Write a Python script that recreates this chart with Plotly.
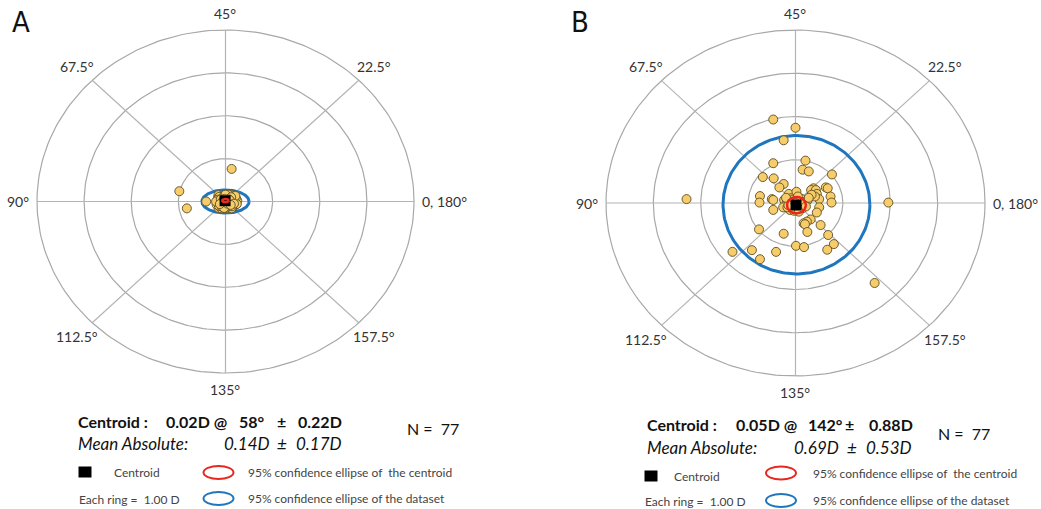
import numpy as np
import plotly.graph_objects as go

# ---------------- data ----------------
ring_step_D = 1.0
n_rings = 4
axis_labels = ["0, 180°", "22.5°", "45°", "67.5°", "90°", "112.5°", "135°", "157.5°"]
axis_deg = [0, 22.5, 45, 67.5, 90, 112.5, 135, 157.5]

# Panel A: double-angle vector components (D)
a_x = [0.13, -0.98, -0.82, -0.41,
       -0.15, 0.10, 0.20, 0.22, -0.15, 0.03, 0.17, -0.08, 0.13, -0.19, 0.06,
       0.25, 0.20, -0.10, 0.00, -0.05, 0.08, 0.15, -0.12, 0.05, -0.02, 0.10, 0.18,
       -0.06, 0.12, -0.16, 0.02, 0.07, -0.03, 0.22, -0.09, 0.14, -0.13, 0.00, 0.09,
       -0.04, 0.16, -0.11, 0.04, 0.11, -0.07, 0.01, 0.19, -0.17, 0.06, 0.13, -0.01,
       0.24, -0.14, 0.05, 0.03, -0.06, 0.10, 0.17, -0.08, 0.08, 0.21, -0.20, 0.00,
       0.15, -0.03, 0.12, -0.10, 0.07, -0.05, 0.02, 0.14, -0.12, 0.09, 0.04, -0.02,
       0.18, 0.11]
a_y = [0.76, 0.24, -0.16, 0.00,
       0.15, 0.17, 0.10, -0.03, -0.15, -0.16, -0.12, 0.07, 0.03, -0.07, -0.08,
       0.02, -0.08, -0.10, 0.12, -0.05, 0.08, 0.12, 0.02, 0.02, -0.12, -0.13, 0.05,
       0.14, -0.05, 0.08, 0.05, -0.02, 0.03, 0.08, -0.16, 0.15, 0.11, -0.03, 0.13,
       -0.09, -0.02, -0.03, 0.09, 0.06, 0.00, -0.07, 0.14, 0.04, 0.16, -0.16, 0.08,
       -0.06, -0.10, -0.12, 0.00, 0.10, 0.00, 0.09, -0.12, -0.10, 0.13, 0.00, 0.16,
       -0.08, -0.15, 0.10, 0.05, 0.05, 0.02, -0.02, -0.11, -0.06, 0.03, -0.05, 0.06,
       -0.05, -0.08]

# Panel B
b_x = [-0.47, 0.00, -0.25, -0.47, 0.21, 0.15, 0.28, 0.77, -0.69, -0.46, -0.25, -0.34,
       -0.14, 0.02, 0.38, 0.33, 0.43, 0.64, 0.68, 0.45, -2.30, -0.75, -0.76, -0.50,
       -0.47, -0.24, -0.19, 0.26, 0.50, 0.74, 0.76, 1.96, -0.47, -0.26, 0.50, 0.45,
       0.32, 0.24, 0.17, 0.20, 0.53, -0.77, 0.25, -0.25, 0.69, 0.01, 0.18, 0.81,
       0.67, -1.33, -0.92, -0.41, -0.75, 1.67, 0.41, 0.34, -0.12, 0.06, -0.10, -0.17,
       0.08, -0.05, 0.10, -0.08, 0.03, 0.12, -0.12, 0.05, 0.15, -0.03, 0.18, -0.15,
       0.00, 0.07, -0.20, 0.22, 0.28]
b_y = [1.93, 1.74, 1.45, 0.92, 0.98, 0.77, 0.73, 0.66, 0.60, 0.57, 0.44, 0.36,
       0.21, 0.26, 0.34, 0.30, 0.30, 0.36, 0.34, 0.21, 0.09, 0.16, 0.01, 0.09,
       0.07, 0.07, -0.01, 0.07, 0.09, 0.15, 0.01, 0.01, -0.16, -0.10, -0.10, -0.22,
       -0.38, -0.43, -0.47, -0.49, -0.51, -0.61, -0.67, -0.71, -0.74, -0.99, -1.02, -0.95,
       -1.08, -1.13, -1.09, -1.13, -1.30, -1.85, 0.15, 0.19, -0.16, -0.16, 0.11, -0.10,
       0.05, 0.08, -0.05, -0.06, -0.12, 0.10, 0.03, 0.15, -0.12, -0.18, 0.02, -0.05,
       0.00, -0.20, 0.12, -0.08, 0.12]

# centroids (magnitude D, axis deg)
centroid_A = (0.02, 58)
centroid_B = (0.05, 142)
# ellipses: (center x, center y, semi-axis x, semi-axis y) in D
blue_A = (0.00, 0.00, 0.50, 0.27)
red_A = (0.00, 0.02, 0.07, 0.04)
blue_B = (0.02, -0.04, 1.55, 1.60)
red_B = (0.02, -0.05, 0.20, 0.19)

stats_A = ["0.02D @", "58°", "±", "0.22D", "0.14D", "±", "0.17D"]
stats_B = ["0.05D @", "142°", "±", "0.88D", "0.69D", "±", "0.53D"]
n_text = "N =  77"

# ---------------- styles ----------------
W, H = 1041, 509
RING = "#a8a8a8"
SPOKE = "#b4b4b4"
PT_FILL = "#f6cd6a"
PT_LINE = "#5e4d22"
BLUE = "#1f76be"
RED = "#e8281e"
TXT = "#333333"
FONT = "Lato, 'Open Sans', sans-serif"
XR = 4.75
YR = 4.6

def px(x):
    return x / W

def py(y):
    return 1 - y / H

fig = go.Figure()

t = np.linspace(0, 2 * np.pi, 241)

def add_panel(xa, ya, xs, ys, centroid, blue, red):
    xref = "x" if xa == "" else "x" + xa
    yref = "y" if ya == "" else "y" + ya
    kw = dict(xaxis=xref, yaxis=yref, showlegend=False, hoverinfo="skip")
    rmax = n_rings * ring_step_D
    for k in range(1, n_rings + 1):
        r = k * ring_step_D
        fig.add_trace(go.Scatter(x=r * np.cos(t), y=r * np.sin(t), mode="lines",
                                 line=dict(color=RING, width=1.2), **kw))
    for d in axis_deg:
        th = np.deg2rad(2 * d)
        fig.add_trace(go.Scatter(x=[0, rmax * np.cos(th)], y=[0, rmax * np.sin(th)],
                                 mode="lines", line=dict(color=SPOKE, width=1.2), **kw))
    cx, cy, sa, sb = blue
    fig.add_trace(go.Scatter(x=cx + sa * np.cos(t), y=cy + sb * np.sin(t), mode="lines",
                             line=dict(color=BLUE, width=3), **kw))
    fig.add_trace(go.Scatter(x=xs, y=ys, mode="markers",
                             marker=dict(size=9, color=PT_FILL,
                                         line=dict(color=PT_LINE, width=0.9)),
                             cliponaxis=False, **kw))
    m, ax = centroid
    th = np.deg2rad(2 * ax)
    fig.add_trace(go.Scatter(x=[m * np.cos(th)], y=[m * np.sin(th)], mode="markers",
                             marker=dict(symbol="square", size=11, color="black"), **kw))
    cx, cy, sa, sb = red
    fig.add_trace(go.Scatter(x=cx + sa * np.cos(t), y=cy + sb * np.sin(t), mode="lines",
                             line=dict(color=RED, width=2.5), **kw))
    # angle labels
    for lab, d in zip(axis_labels, axis_deg):
        th = np.deg2rad(2 * d)
        if d == 0:
            fig.add_annotation(x=4.12, y=0, xref=xref, yref=yref, text=lab, showarrow=False,
                               xanchor="left", yanchor="middle",
                               font=dict(family=FONT, size=14, color=TXT))
        elif d == 90:
            fig.add_annotation(x=-4.12, y=0, xref=xref, yref=yref, text=lab, showarrow=False,
                               xanchor="right", yanchor="middle",
                               font=dict(family=FONT, size=14, color=TXT))
        else:
            r = 4.38 if d in (45, 135) else 4.45
            fig.add_annotation(x=r * np.cos(th), y=r * np.sin(th), xref=xref, yref=yref,
                               text=lab, showarrow=False, xanchor="center", yanchor="middle",
                               font=dict(family=FONT, size=14, color=TXT))

add_panel("", "", a_x, a_y, centroid_A, blue_A, red_A)
add_panel("2", "2", b_x, b_y, centroid_B, blue_B, red_B)

def dom(center, rad_px, size, rng, flip=False):
    half = rad_px * rng / 4.0
    lo, hi = center - half, center + half
    if flip:
        return [max(0, 1 - hi / size), min(1, 1 - lo / size)]
    return [max(0, lo / size), min(1, hi / size)]

def axdict(rng, domain, **extra):
    return dict(range=[-rng, rng], domain=domain, showgrid=False, zeroline=False,
                showticklabels=False, ticks="", showline=False, fixedrange=True, **extra)

fig.update_layout(
    width=W, height=H, margin=dict(l=0, r=0, t=0, b=0),
    paper_bgcolor="white", plot_bgcolor="white",
    xaxis=axdict(XR, dom(225.5, 188.5, W, XR)),
    yaxis=axdict(YR, dom(201.5, 171.5, H, YR, True)),
    xaxis2=axdict(XR, dom(795.5, 189.5, W, XR), anchor="y2"),
    yaxis2=axdict(YR, dom(203, 173, H, YR, True), anchor="x2"),
)

# panel letters
for lab, x in (("A", 10), ("B", 569)):
    fig.add_annotation(x=px(x), y=py(22), xref="paper", yref="paper", text=lab,
                       showarrow=False, xanchor="left", yanchor="middle",
                       font=dict(family="'Liberation Sans Narrow', 'DejaVu Sans Condensed', sans-serif",
                                 size=29, color="#111111"))

def txt(x, y, s, size, bold=False, italic=False, color="#111111"):
    if bold:
        s = "<b>" + s + "</b>"
    if italic:
        s = "<i>" + s + "</i>"
    fig.add_annotation(x=px(x), y=py(y), xref="paper", yref="paper", text=s,
                       showarrow=False, xanchor="left", yanchor="middle",
                       font=dict(family=FONT, size=size, color=color))

def stats_block(x0, yc, ym, xs_top, xs_mean, st, xn, yn):
    txt(x0, yc, "Centroid :", 16, bold=True)
    for s, x in zip(st[:4], xs_top):
        txt(x, yc, s, 16, bold=True)
    txt(x0, ym, "Mean Absolute:", 17, italic=True)
    for s, x in zip(st[4:], xs_mean):
        txt(x, ym, s, 17, italic=True)
    txt(xn, yn, n_text, 16)

stats_block(76, 421, 443, [164, 237, 275, 296], [222, 275, 294], stats_A, 405, 428)
stats_block(645, 424, 447, [734, 806, 843, 867], [792, 845, 864], stats_B, 936, 433)

def legend_block(xsq, ysq, xlab, xell, yr, yb, xt, yeach):
    fig.add_shape(type="rect", xref="paper", yref="paper",
                  x0=px(xsq - 6.5), x1=px(xsq + 6.5), y0=py(ysq - 5.5), y1=py(ysq + 5.5),
                  fillcolor="black", line=dict(width=0))
    txt(xlab, ysq, "Centroid", 12, color="#444444")
    fig.add_shape(type="circle", xref="paper", yref="paper",
                  x0=px(xell - 15), x1=px(xell + 15), y0=py(yr - 6.5), y1=py(yr + 6.5),
                  line=dict(color=RED, width=2))
    txt(xt, yr, "95% confidence ellipse of  the centroid", 12, color="#444444")
    txt(xsq - 8, yeach, "Each ring =  1.00 D", 12, color="#444444")
    fig.add_shape(type="circle", xref="paper", yref="paper",
                  x0=px(xell - 15), x1=px(xell + 15), y0=py(yb - 6.5), y1=py(yb + 6.5),
                  line=dict(color=BLUE, width=2))
    txt(xt, yb, "95% confidence ellipse of the dataset", 12, color="#444444")

legend_block(85, 472, 112, 218.5, 472.5, 498.5, 246, 499)
legend_block(651, 476, 672, 781, 473, 500.5, 811, 501)

fig.write_html("out.html", config={"displayModeBar": False},
               post_script="document.body.style.margin='0';document.body.style.overflow='hidden';")
